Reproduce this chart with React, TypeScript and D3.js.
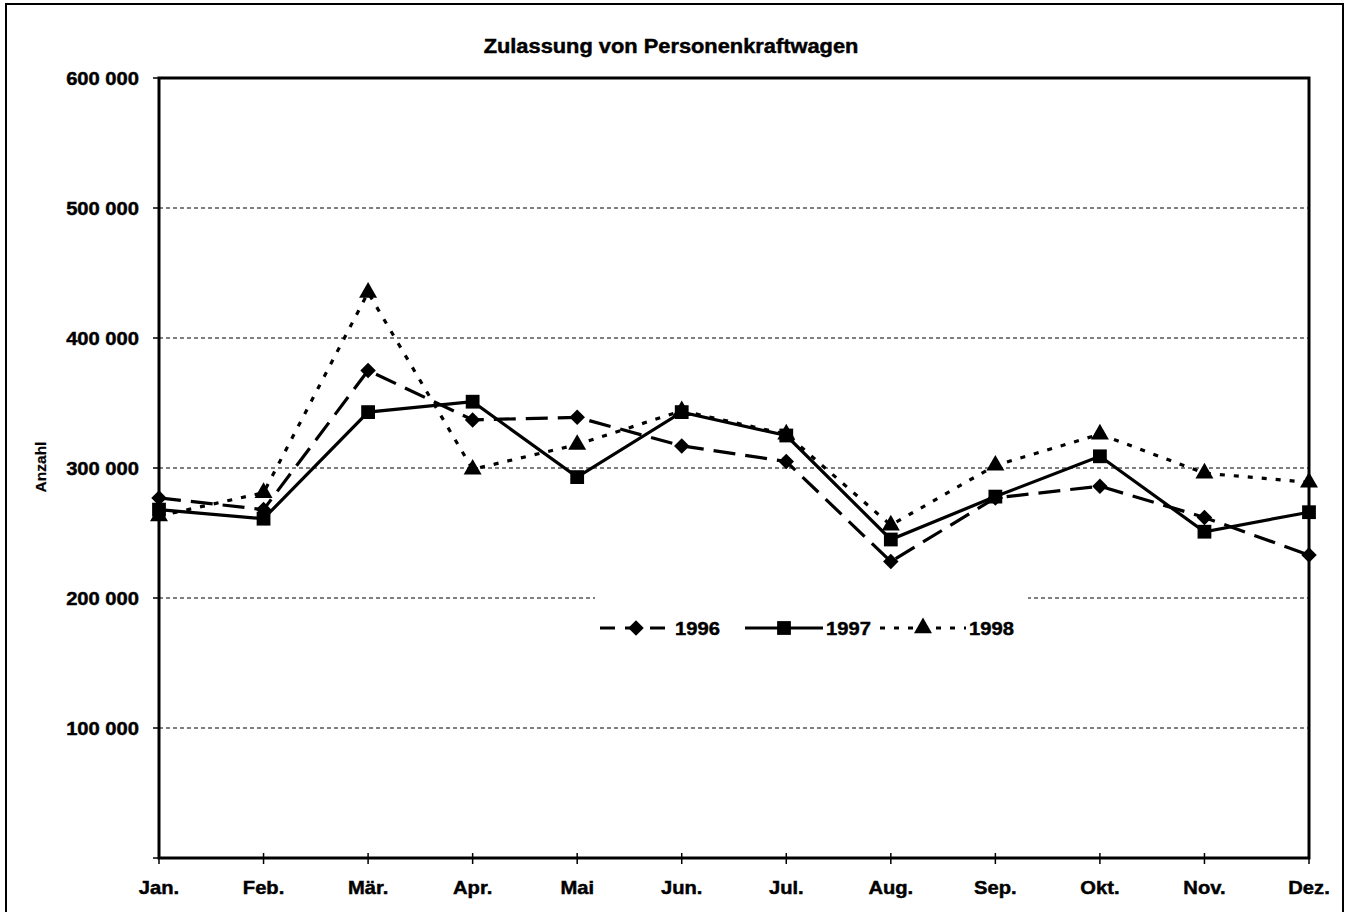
import React, { useEffect, useRef } from 'react';
import * as d3 from 'd3';

const months = ['Jan.', 'Feb.', 'Mär.', 'Apr.', 'Mai', 'Jun.', 'Jul.', 'Aug.', 'Sep.', 'Okt.', 'Nov.', 'Dez.'];
const values1996 = [277000, 268000, 375000, 337000, 339000, 317000, 305000, 228000, 277000, 286000, 262000, 233000];
const values1997 = [268000, 261000, 343000, 351000, 293000, 343000, 325000, 245000, 278000, 309000, 251000, 266000];
const values1998 = [263000, 281000, 435000, 299000, 318000, 344000, 326000, 256000, 302000, 326000, 296000, 289000];
const yTicks = [100000, 200000, 300000, 400000, 500000, 600000];

const App = () => {
  const svgRef = useRef<SVGSVGElement>(null);

  useEffect(() => {
    const svg = d3.select(svgRef.current);
    svg.selectAll('*').remove();

    const left = 159, right = 1309, top = 78, bottom = 858;
    const font = 'Liberation Sans, Arial, sans-serif';
    const sx = 1.12; // the original lettering is a bit wider than Arial

    const x = d3.scalePoint<string>().domain(months).range([left, right]);
    const y = d3.scaleLinear().domain([0, 600000]).range([bottom, top]);

    // heavier text, like the scanned original
    const label = (sel: any, size: number) => sel
      .attr('font-family', font).attr('font-weight', 'bold').attr('font-size', size)
      .attr('stroke', '#000').attr('stroke-width', 0.45);

    // outer frame
    svg.append('path')
      .attr('d', 'M6,920 V4 H1343 V920')
      .attr('fill', 'none').attr('stroke', '#000').attr('stroke-width', 2);

    // title
    label(svg.append('text')
      .attr('transform', `translate(671,53) scale(${sx},1)`)
      .attr('text-anchor', 'middle'), 19.5)
      .text('Zulassung von Personenkraftwagen');

    // gridlines
    svg.append('g').selectAll('line')
      .data(yTicks.filter(d => d < 600000))
      .enter().append('line')
      .attr('x1', left).attr('x2', right)
      .attr('y1', d => y(d)).attr('y2', d => y(d))
      .attr('stroke', '#000').attr('stroke-width', 1)
      .attr('stroke-dasharray', '4,3');

    // y tick marks + labels
    const fmt = (v: number) => d3.format(',')(v).replace(/,/g, ' ');
    const yg = svg.append('g');
    yg.selectAll('line').data([0, ...yTicks]).enter().append('line')
      .attr('x1', left - 6).attr('x2', left)
      .attr('y1', d => y(d)).attr('y2', d => y(d))
      .attr('stroke', '#000').attr('stroke-width', 1.5);
    label(yg.selectAll('text').data(yTicks).enter().append('text')
      .attr('transform', d => `translate(${left - 20},${y(d) + 6.5}) scale(${sx},1)`)
      .attr('text-anchor', 'end'), 18)
      .text(d => fmt(d));

    label(svg.append('text')
      .attr('transform', `translate(46,467) rotate(-90)`)
      .attr('text-anchor', 'middle'), 15.5)
      .attr('stroke-width', 0.2)
      .text('Anzahl');

    // x tick marks + labels
    const xg = svg.append('g');
    xg.selectAll('line').data(months).enter().append('line')
      .attr('x1', d => x(d)!).attr('x2', d => x(d)!)
      .attr('y1', bottom - 5).attr('y2', bottom + 6)
      .attr('stroke', '#000').attr('stroke-width', 1.5);
    label(xg.selectAll('text').data(months).enter().append('text')
      .attr('transform', d => `translate(${x(d)},${bottom + 36}) scale(${sx},1)`)
      .attr('text-anchor', 'middle'), 18)
      .text(d => d);

    // legend background (hides the gridline behind it)
    const legY = 628;
    svg.append('rect')
      .attr('x', 595).attr('y', 590).attr('width', 433).attr('height', 72)
      .attr('fill', '#fff');

    // plot frame
    svg.append('rect')
      .attr('x', left).attr('y', top).attr('width', right - left).attr('height', bottom - top)
      .attr('fill', 'none').attr('stroke', '#000').attr('stroke-width', 3);

    const series = [
      { name: '1998', values: values1998, dash: '5,9', symbol: d3.symbolTriangle, size: 140, rot: 0 },
      { name: '1996', values: values1996, dash: '22,10', symbol: d3.symbolSquare, size: 120, rot: 45 },
      { name: '1997', values: values1997, dash: null, symbol: d3.symbolSquare, size: 190, rot: 0 },
    ];

    const line = d3.line<number>()
      .x((_, i) => x(months[i])!)
      .y(d => y(d));

    series.forEach(s => {
      svg.append('path')
        .attr('d', line(s.values))
        .attr('fill', 'none').attr('stroke', '#000').attr('stroke-width', 3.2)
        .attr('stroke-dasharray', s.dash);
    });
    series.forEach(s => {
      const sym = d3.symbol().type(s.symbol).size(s.size);
      svg.append('g').selectAll('path').data(s.values).enter().append('path')
        .attr('d', sym()!)
        .attr('transform', (d, i) => `translate(${x(months[i])},${y(d)}) rotate(${s.rot})`)
        .attr('fill', '#000');
    });

    // legend
    const legend = [
      { name: '1996', x0: 600, dash: '15,10', symbol: d3.symbolSquare, size: 120, rot: 45, len: 72 },
      { name: '1997', x0: 745, dash: null, symbol: d3.symbolSquare, size: 190, rot: 0, len: 78 },
      { name: '1998', x0: 880, dash: '5,9', symbol: d3.symbolTriangle, size: 140, rot: 0, len: 86 },
    ];
    legend.forEach(l => {
      svg.append('line')
        .attr('x1', l.x0).attr('x2', l.x0 + l.len)
        .attr('y1', legY).attr('y2', legY)
        .attr('stroke', '#000').attr('stroke-width', 3.2)
        .attr('stroke-dasharray', l.dash);
      svg.append('path')
        .attr('d', d3.symbol().type(l.symbol).size(l.size)()!)
        .attr('transform', `translate(${l.x0 + l.len / 2},${legY}) rotate(${l.rot})`)
        .attr('fill', '#000');
      label(svg.append('text')
        .attr('transform', `translate(${l.x0 + l.len + 3},${legY + 6.5}) scale(${sx},1)`), 18)
        .text(l.name);
    });
  }, []);

  return (
    <svg ref={svgRef} width={1350} height={912}
      style={{ position: 'absolute', left: 0, top: 0, background: '#fff' }} />
  );
};

export default App;
